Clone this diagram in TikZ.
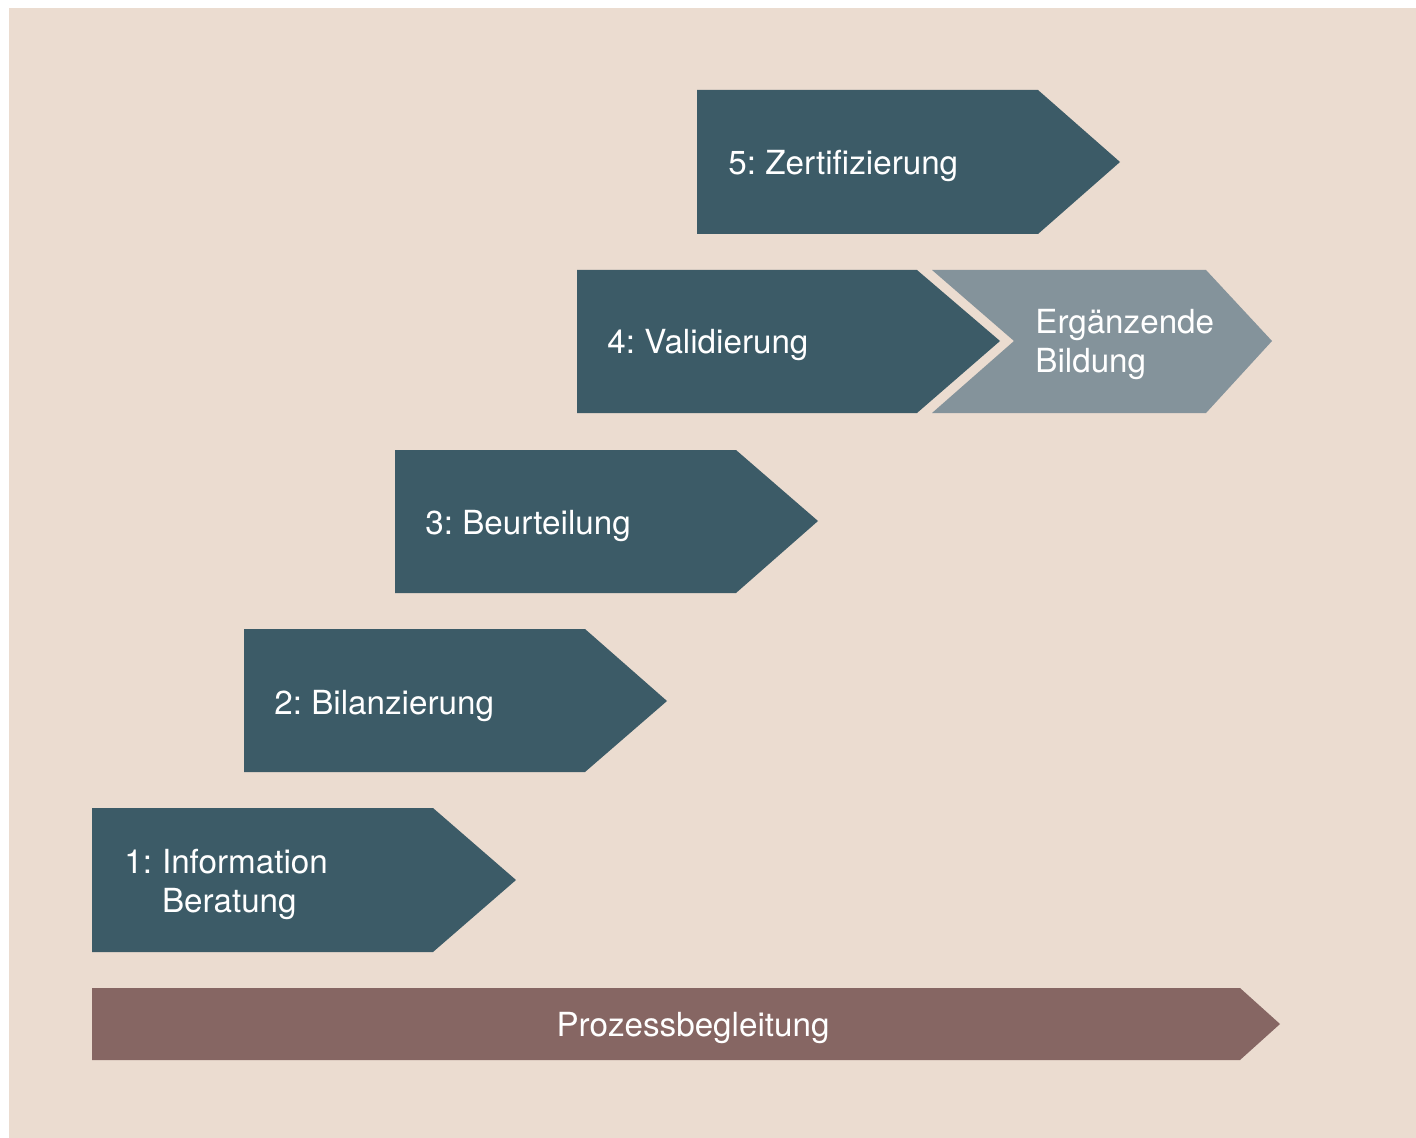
\documentclass[tikz,border=0pt]{standalone}
\usepackage{fontspec}
\setmainfont{TeX Gyre Heros}
\frenchspacing
\definecolor{bgc}{HTML}{EBDCD0}
\definecolor{teal}{HTML}{3C5B67}
\definecolor{grayb}{HTML}{84939B}
\definecolor{brownb}{HTML}{866663}
\begin{document}
\begin{tikzpicture}[x=0.5pt,y=-0.5pt,
  lbl/.style={anchor=base west,inner sep=0pt,text=white,font=\fontsize{16.6}{20}\selectfont,align=left},
  darkarrow/.style={fill=teal,draw=none},
  lightarrow/.style={fill=grayb,draw=none},
  brownarrow/.style={fill=brownb,draw=none}]
\useasboundingbox (0,0) rectangle (1416,1138);
\fill[white] (0,0) rectangle (1416,1138);
\fill[bgc] (9,8) rectangle (1416,1138);
% step 5
\path[darkarrow] (697,90) -- (1038,90) -- (1120,162) -- (1038,234) -- (697,234) -- cycle;
\node[lbl] (s5) at (728,175) {5: Zertifizierung};
% step 4
\path[darkarrow] (577,270) -- (917,270) -- (1000,341) -- (917,413) -- (577,413) -- cycle;
\node[lbl] (s4) at (607,354) {4: Validierung};
% supplementary
\path[lightarrow] (932,270) -- (1206,270) -- (1272,341) -- (1206,413) -- (932,413) -- (1014,341) -- cycle;
\node[lbl] (erg) at (1035,334) {\begin{tabular}[t]{@{}l@{}}Ergänzende\\[-0.5pt]Bildung\end{tabular}};
% step 3
\path[darkarrow] (395,450) -- (736,450) -- (818,521) -- (736,593) -- (395,593) -- cycle;
\node[lbl] (s3) at (425,534) {3: Beurteilung};
% step 2
\path[darkarrow] (244,629) -- (585,629) -- (667,701) -- (585,772) -- (244,772) -- cycle;
\node[lbl] (s2) at (274,714) {2: Bilanzierung};
% step 1
\path[darkarrow] (92,808) -- (433,808) -- (516,880) -- (433,952) -- (92,952) -- cycle;
\node[lbl] (s1) at (124,873) {\begin{tabular}[t]{@{}l@{\hspace{0.3em}}l@{}}1: & Information\\[-0.5pt] & Beratung\end{tabular}};
% process
\path[brownarrow] (92,988) -- (1240,988) -- (1280,1024) -- (1240,1060) -- (92,1060) -- cycle;
\node[lbl,anchor=base] (pb) at (693,1036) {Prozessbegleitung};
\end{tikzpicture}
\end{document}
